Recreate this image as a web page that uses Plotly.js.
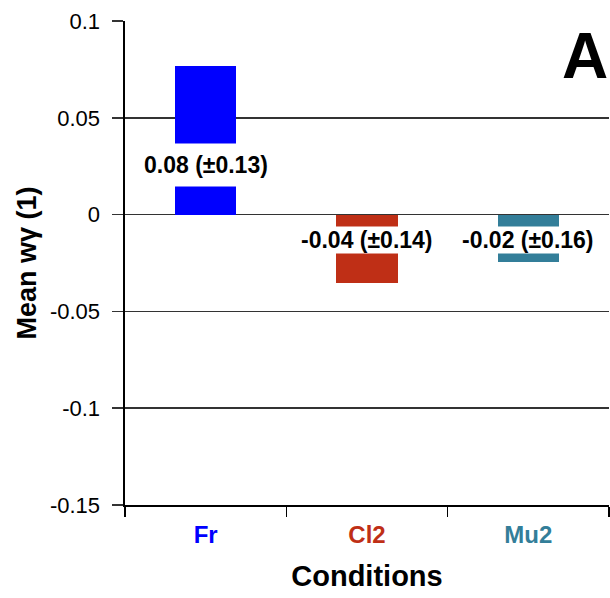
<!DOCTYPE html>
<html>
<head>
<meta charset="utf-8">
<script src="https://cdn.plot.ly/plotly-3.0.1.min.js"></script>
<style>
  html, body { margin: 0; padding: 0; background: #fff; }
  #chart { width: 610px; height: 598px; }
</style>
</head>
<body>
<div id="chart"></div>
<script>
// Mean wγ per condition, with standard deviations shown in the labels
const conditions = ['Fr', 'Cl2', 'Mu2'];
const meanValues = [0.0768, -0.0352, -0.0243];
const sdValues = [0.13, 0.14, 0.16];
const barColors = ['#0000FF', '#BF2F16', '#337E99'];

// y-axis ticks
const yTickValues = [0.1, 0.05, 0, -0.05, -0.1, -0.15];
const yTickLabels = ['0.1', '0.05', '0', '-0.05', '-0.1', '-0.15'];

// vertical placement of each value label (data units) and its white padding
const labelY = [0.0256, -0.0129, -0.0129];
const labelPad = [8, 0, 0];

const FONT = 'Arial, "Liberation Sans", Helvetica, sans-serif';

const trace = {
  type: 'bar',
  x: conditions,
  y: meanValues,
  width: 0.38,
  marker: { color: barColors, line: { width: 0 } },
  hoverinfo: 'skip'
};

const fmt = v => v.toFixed(2);

const annotations = conditions.map((c, i) => ({
  x: c, y: labelY[i], xref: 'x', yref: 'y',
  text: '<b>' + fmt(meanValues[i]) + ' (±' + fmt(sdValues[i]) + ')</b>',
  showarrow: false,
  font: { family: FONT, size: 23, color: '#000' },
  bgcolor: '#ffffff',
  borderpad: labelPad[i],
  xanchor: 'center', yanchor: 'middle'
}));

// panel letter
annotations.push({
  x: 1, y: 1.005, xref: 'paper', yref: 'paper',
  text: '<b>A</b>', showarrow: false,
  font: { family: FONT, size: 64, color: '#000' },
  xanchor: 'right', yanchor: 'top', borderpad: 0
});

const layout = {
  width: 610, height: 598,
  margin: { l: 125, r: 1, t: 21, b: 93 },
  paper_bgcolor: '#fff', plot_bgcolor: '#fff',
  showlegend: false,
  font: { family: FONT, color: '#000' },
  bargap: 0,
  xaxis: {
    type: 'category',
    range: [-0.5, 2.5],
    tickvals: conditions,
    ticktext: conditions.map((c, i) => '<span style="color:' + barColors[i] + '"><b>' + c + '</b></span>'),
    tickson: 'boundaries',
    ticks: 'outside', ticklen: 10, tickwidth: 1.5, tickcolor: '#000',
    ticklabelstandoff: 8,
    tickfont: { family: FONT, size: 24 },
    showline: true, linecolor: '#000', linewidth: 1.5,
    showgrid: false, zeroline: false,
    title: { text: '<b>Conditions</b>', font: { family: FONT, size: 29, color: '#000' }, standoff: 18 },
    fixedrange: true
  },
  yaxis: {
    range: [-0.15, 0.1],
    tickvals: yTickValues,
    ticktext: yTickLabels,
    ticks: 'outside', ticklen: 11, tickwidth: 1.5, tickcolor: '#333',
    ticklabelstandoff: 7,
    tickfont: { family: FONT, size: 22, color: '#000' },
    showgrid: true, gridcolor: '#333', gridwidth: 1.5,
    zeroline: false,
    showline: true, linecolor: '#000', linewidth: 2.5,
    title: { text: '<b>Mean wγ (1)</b>', font: { family: FONT, size: 27, color: '#000' }, standoff: 6 },
    fixedrange: true
  },
  shapes: [{
    // white gap in the top grid line behind the panel letter
    type: 'rect', xref: 'paper', yref: 'paper',
    x0: 0.843, x1: 1.01, y0: 0.985, y1: 1.02,
    fillcolor: '#fff', line: { width: 0 }, layer: 'above'
  }],
  annotations: annotations
};

Plotly.newPlot('chart', [trace], layout, { displayModeBar: false, staticPlot: true });
</script>
</body>
</html>
